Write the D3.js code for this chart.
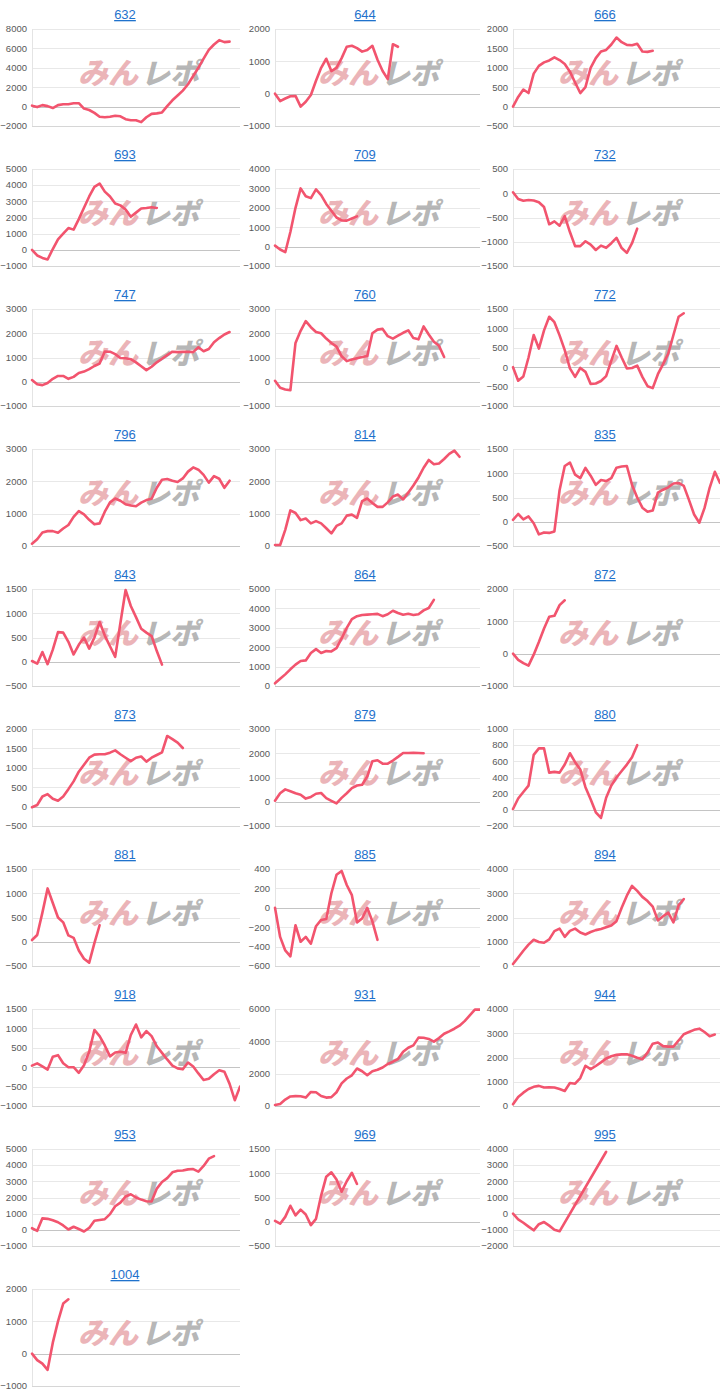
<!DOCTYPE html>
<html>
<head>
<meta charset="utf-8">
<script src="https://cdn.jsdelivr.net/npm/d3@7"></script>
<style>
  html, body { margin: 0; padding: 0; background: #fff; }
  svg { display: block; }
</style>
</head>
<body>
<svg id="chart" width="720" height="1396"></svg>
<script>
// ---------- DATA ----------
const panelIds = ["632","644","666","693","709","732","747","760","772","796","814","835","843","864","872","873","879","880","881","885","894","918","931","944","953","969","995","1004"];
const yMins  = [-2000,-1000,-500,-1000,-1000,-1500,-1000,-1000,-1000,0,0,-500,-500,0,-1000,-500,-1000,-200,-500,-600,0,-1000,0,0,-1000,-500,-2000,-1000];
const yMaxs  = [8000,2000,2000,5000,4000,500,3000,3000,1500,3000,3000,1500,1500,5000,2000,2000,3000,1000,1500,400,4000,1500,6000,4000,5000,1500,4000,2000];
const ySteps = [2000,1000,500,1000,1000,500,1000,1000,500,1000,1000,500,500,1000,1000,500,1000,200,500,200,1000,500,2000,1000,1000,500,1000,1000];
const slotCount = 40;

const s632 = [100,-50,150,50,-150,150,250,250,350,350,-200,-350,-650,-1050,-1100,-1050,-950,-1000,-1300,-1400,-1400,-1600,-1100,-750,-700,-600,50,650,1150,1650,2300,3150,4000,4950,5850,6400,6850,6650,6700];
const s644 = [0,-230,-150,-80,-70,-400,-250,-40,400,800,1080,700,800,1100,1450,1480,1410,1300,1350,1480,1050,700,450,1530,1450];
const s666 = [0,250,440,350,850,1050,1140,1190,1270,1200,1100,900,620,350,500,1000,1250,1420,1460,1600,1780,1660,1590,1580,1620,1420,1410,1440];
const s693 = [0,-350,-500,-600,50,650,1000,1350,1250,1900,2600,3300,3900,4100,3600,3300,2860,2750,2500,2050,2300,2560,2590,2630,2590];
const s709 = [50,-150,-290,750,2000,3000,2600,2500,2950,2650,2200,1850,1500,1350,1340,1450,1560];
const s732 = [20,-120,-155,-140,-150,-185,-285,-640,-580,-670,-470,-800,-1090,-1090,-990,-1060,-1170,-1080,-1125,-1030,-920,-1130,-1230,-1030,-730];
const s747 = [70,-100,-140,-50,120,240,240,120,200,360,420,520,650,750,1250,1240,1140,980,970,930,800,640,480,620,800,950,1100,1240,1220,1230,1240,1220,1420,1260,1350,1630,1800,1950,2050];
const s760 = [40,-250,-320,-350,1600,2100,2500,2250,2050,2000,1780,1600,1450,1050,850,920,970,1020,1060,2000,2150,2180,1880,1780,1900,2020,2120,1800,1750,2280,1950,1650,1480,1020];
const s772 = [0,-350,-240,250,830,480,950,1300,1160,820,440,-30,-250,-20,-120,-430,-420,-355,-230,170,550,250,-30,-20,40,-250,-490,-540,-180,80,350,830,1300,1390];
const s796 = [70,210,420,460,460,410,540,650,900,1080,980,810,670,700,1060,1350,1470,1400,1290,1250,1230,1340,1420,1460,1800,2050,2070,2020,1980,2090,2300,2430,2360,2200,1960,2160,2080,1800,2020];
const s814 = [30,30,500,1100,1020,800,850,700,770,700,550,390,620,700,940,970,870,1390,1470,1330,1210,1210,1350,1530,1590,1440,1650,1870,2120,2420,2660,2530,2550,2690,2850,2950,2760];
const s835 = [40,160,50,110,-30,-260,-220,-230,-200,650,1150,1220,970,900,1110,950,760,860,840,900,1115,1140,1150,760,500,290,205,230,600,660,710,790,800,740,450,150,-20,280,700,1030,800];
const s843 = [15,-40,200,-50,250,610,600,410,150,350,500,270,500,820,540,320,100,800,1480,1150,920,680,600,530,220,-60];
const s864 = [140,370,600,860,1100,1290,1320,1700,1900,1700,1800,1780,1950,2450,3000,3450,3600,3660,3680,3700,3720,3600,3700,3880,3760,3670,3720,3660,3700,3900,4020,4440];
const s872 = [0,-190,-290,-370,-30,360,780,1140,1170,1500,1650];
const s873 = [-15,40,260,320,200,150,260,450,650,900,1080,1260,1340,1350,1350,1390,1450,1350,1260,1170,1260,1290,1160,1260,1330,1400,1820,1740,1650,1510];
const s879 = [40,350,510,430,350,290,130,200,330,360,150,40,-70,160,350,560,670,700,1040,1670,1710,1570,1570,1700,1850,2010,2010,2020,2010,2000];
const s880 = [10,140,220,300,680,760,760,460,470,460,560,700,590,500,280,130,-30,-100,150,300,400,480,560,650,800];
const s881 = [35,140,600,1100,800,500,400,130,80,-180,-350,-430,-30,340];
const s885 = [0,-300,-440,-500,-180,-350,-300,-370,-190,-125,-115,150,340,380,235,130,-150,-110,0,-140,-330];
const s894 = [80,350,630,880,1080,990,960,1100,1440,1540,1200,1450,1540,1380,1300,1400,1480,1530,1600,1670,1850,2400,2900,3300,3100,2850,2680,2450,1880,2050,2200,1800,2500,2760];
const s918 = [40,100,20,-60,270,310,100,0,0,-145,50,400,960,800,560,280,380,400,370,830,1100,770,930,800,540,370,200,40,-30,-55,120,20,-160,-330,-300,-180,-80,-120,-430,-850,-500];
const s931 = [60,130,400,590,610,600,520,870,850,620,520,550,850,1400,1700,1900,2320,2150,1900,2150,2240,2380,2600,2740,2900,3350,3600,3750,4230,4220,4150,3980,4200,4470,4620,4780,4970,5250,5600,5960,5960];
const s944 = [70,370,550,700,790,830,760,770,760,700,620,950,920,1150,1660,1520,1650,1800,1960,2050,2110,2130,2130,2070,1990,1930,2200,2570,2620,2470,2450,2450,2700,2960,3050,3140,3190,3050,2880,2950];
const s953 = [100,-60,710,680,590,470,270,20,190,50,-100,120,560,610,660,970,1460,1680,2060,2200,2000,1870,1770,1750,2550,2960,3200,3560,3650,3670,3740,3760,3600,3950,4400,4560];
const s969 = [20,-40,100,330,130,250,150,-70,60,540,930,1020,870,620,835,1010,780];
const s995 = [0,-350,-560,-800,-1030,-650,-520,-740,-990,-1090,null,null,null,null,null,null,null,null,3830];
const s1004 = [0,-200,-310,-500,340,1000,1550,1680];

const seriesList = [s632,s644,s666,s693,s709,s732,s747,s760,s772,s796,s814,s835,s843,s864,s872,s873,s879,s880,s881,s885,s894,s918,s931,s944,s953,s969,s995,s1004];

// ---------- LAYOUT / STYLE ----------
const colW = 240, rowH = 140;
const plotLeftByCol = [32, 35, 33];
const plotTop = 29, plotBottom = 126, plotRight = 240;
const lineColor = "#f2546e";
const titleColor = "#1f72cc";

const svg = d3.select("#chart");
svg.append("rect").attr("width", 720).attr("height", 1396).attr("fill", "#fff");

const defs = svg.append("defs");

panelIds.forEach((id, k) => {
  const col = k % 3, row = Math.floor(k / 3);
  const left = plotLeftByCol[col];
  const g = svg.append("g").attr("transform", `translate(${col * colW},${row * rowH})`);

  const x = d3.scaleLinear().domain([0, slotCount]).range([left, plotRight]);
  const y = d3.scaleLinear().domain([yMins[k], yMaxs[k]]).range([plotBottom, plotTop]);
  const ticks = d3.range(yMins[k], yMaxs[k] + ySteps[k] / 2, ySteps[k]);

  // clip
  const clipId = "clip" + id;
  defs.append("clipPath").attr("id", clipId)
    .append("rect").attr("x", 0).attr("y", 0).attr("width", colW).attr("height", rowH);

  // gridlines
  g.selectAll("line.grid").data(ticks).join("line")
    .attr("class", "grid")
    .attr("x1", left).attr("x2", plotRight)
    .attr("y1", d => Math.round(y(d)) + 0.5).attr("y2", d => Math.round(y(d)) + 0.5)
    .attr("stroke", d => d === 0 ? "#c4c4c4" : (d === yMins[k] ? "#d6d6d6" : "#e8e8e8"))
    .attr("stroke-width", 1);

  // y axis line
  g.append("line")
    .attr("x1", left + 0.5).attr("x2", left + 0.5)
    .attr("y1", plotTop).attr("y2", plotBottom)
    .attr("stroke", "#e4e4e4");

  // tick labels
  g.selectAll("text.tick").data(ticks).join("text")
    .attr("class", "tick")
    .attr("x", left - 5)
    .attr("y", d => y(d))
    .attr("dy", "0.35em")
    .attr("text-anchor", "end")
    .attr("font-family", "Liberation Sans, Arial, sans-serif")
    .attr("font-size", 9.5)
    .attr("fill", "#595959")
    .text(d => d3.format("d")(d));

  // title
  g.append("text")
    .attr("x", 125).attr("y", 19)
    .attr("text-anchor", "middle")
    .attr("font-family", "Liberation Sans, Arial, sans-serif")
    .attr("font-size", 13)
    .attr("fill", titleColor)
    .attr("text-decoration", "underline")
    .text(id);

  // watermark
  const wm = g.append("g").attr("transform", "translate(78,84) skewX(-14)");
  wm.append("text")
    .attr("x", 0).attr("y", 0)
    .attr("font-family", "Noto Sans CJK JP, sans-serif")
    .attr("font-weight", 900)
    .attr("font-size", 30)
    .attr("fill", "#e8a7ac")
    .attr("fill-opacity", 0.85)
    .text("みん");
  wm.append("text")
    .attr("x", 63).attr("y", 0)
    .attr("font-family", "Noto Sans CJK JP, sans-serif")
    .attr("font-weight", 900)
    .attr("font-size", 29)
    .attr("fill", "#aaaaaa")
    .attr("fill-opacity", 0.85)
    .text("レポ");

  // line
  const pts = seriesList[k].map((v, i) => [i, v]).filter(d => d[1] !== null);
  const line = d3.line().x(d => x(d[0])).y(d => y(d[1]));
  g.append("path")
    .attr("clip-path", `url(#${clipId})`)
    .attr("d", line(pts))
    .attr("fill", "none")
    .attr("stroke", lineColor)
    .attr("stroke-width", 2.6)
    .attr("stroke-linejoin", "round")
    .attr("stroke-linecap", "round");
});
</script>
</body>
</html>
